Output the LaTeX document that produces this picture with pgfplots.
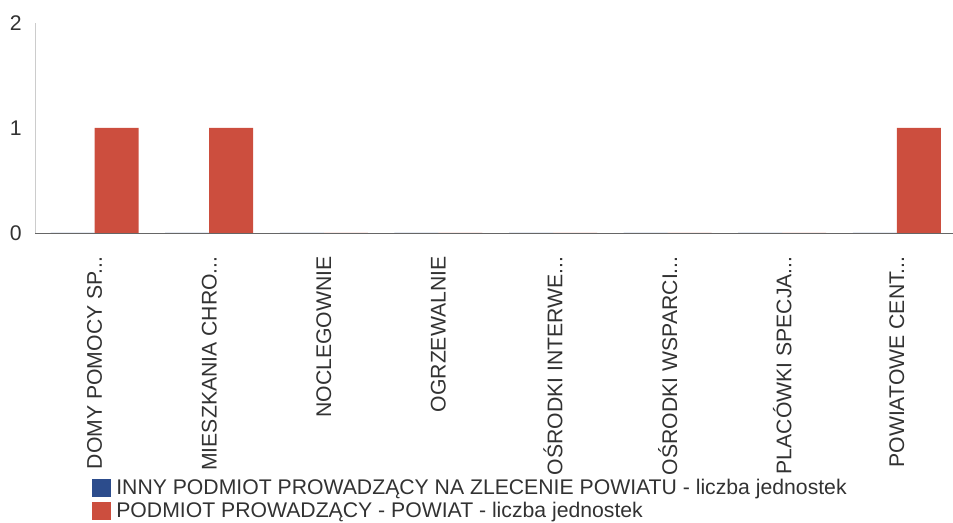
\documentclass[border=0pt]{standalone}
\usepackage{pgfplots}
\pgfplotsset{compat=1.18}
\usepackage{fontspec}
\setmainfont{Liberation Sans}
\usetikzlibrary{calc}

\definecolor{barred}{RGB}{204,78,62}
\definecolor{barblue}{RGB}{44,76,140}
\definecolor{txt}{RGB}{50,50,50}
\newcommand{\dd}{...}

\begin{document}
\begin{tikzpicture}
\begin{axis}[
  scale only axis,
  width=459pt, height=105pt,
  ybar=0pt, bar width=22pt,
  xmin=-0.52, xmax=7.49,
  ymin=0, ymax=2,
  ytick={0,1,2},
  xtick={0,1,2,3,4,5,6,7},
  xticklabels={DOMY POMOCY SP\dd, MIESZKANIA CHRO\dd, NOCLEGOWNIE, OGRZEWALNIE,
    OŚRODKI INTERWE\dd, OŚRODKI WSPARCI\dd, PLACÓWKI SPECJA\dd, POWIATOWE CENT\dd},
  major tick length=0pt,
  axis on top,
  axis x line*=bottom, axis y line*=left,
  x axis line style={draw=black!60, -},
  y axis line style={draw=black!20, -},
  font=\fontsize{10.6}{12.5}\selectfont,
  tick label style={text=txt, inner sep=0pt},
  /pgf/number format/assume math mode=true,
  xticklabel style={rotate=90, anchor=east},
  xticklabel shift=11.5pt,
  yticklabel shift=6.5pt,
  legend style={at={(axis description cs:0.062,-1.16)}, anchor=north west,
    draw=none, fill=none, inner sep=0pt, row sep=0.4pt, column sep=1.5pt,
    font=\fontsize{10.6}{12.5}\selectfont, text=txt,
    nodes={inner sep=1pt}},
  legend cell align=left,
  legend image code/.code={\fill[#1] (0pt,-4.5pt) rectangle (9.5pt,4.5pt);},
]
\addplot[fill=barblue, draw=none] coordinates {
  (0,0)(1,0)(2,0)(3,0)(4,0)(5,0)(6,0)(7,0)
};
\addlegendentry{INNY PODMIOT PROWADZĄCY NA ZLECENIE POWIATU - liczba jednostek}
\addplot[fill=barred, draw=none] coordinates {
  (0,1)(1,1)(2,0)(3,0)(4,0)(5,0)(6,0)(7,1)
};
\addlegendentry{PODMIOT PROWADZĄCY - POWIAT - liczba jednostek}
\end{axis}
\pgfresetboundingbox
\path ($(current axis.south west)+(-17.5pt,-145pt)$) rectangle ($(current axis.south west)+(459pt,116.5pt)$);
\end{tikzpicture}
\end{document}
